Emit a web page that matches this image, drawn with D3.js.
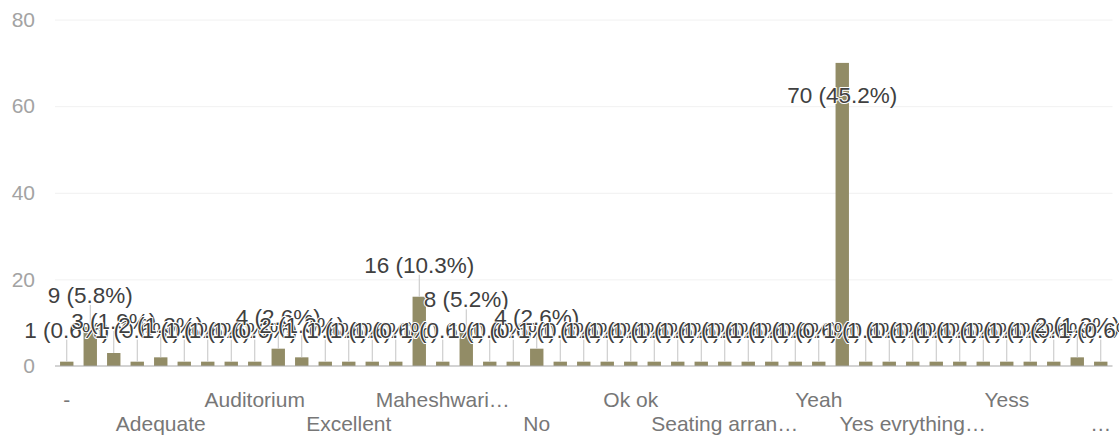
<!DOCTYPE html>
<html>
<head>
<meta charset="utf-8">
<script src="https://cdn.jsdelivr.net/npm/d3@7"></script>
<style>
  html, body { margin: 0; padding: 0; background: #fff; }
  svg { display: block; font-family: "Liberation Sans", Arial, sans-serif; }
</style>
</head>
<body>
<svg id="chart" width="1119" height="444"></svg>
<script>
// ---- data ----
const categories = [
  "-", "Absolutely", "Acceptable", "Active", "Adequate", "Affordable", "All good", "Amazing",
  "Auditorium", "Average", "Better", "Clean", "Excellent", "Fine", "Food", "Good",
  "Maheshwari auditorium", "Maybe", "Most of them", "Need improvement", "No", "Nope", "Not bad", "Not really",
  "Ok ok", "Okay", "Partially", "Satisfied", "Seating arrangement", "Sometimes", "Sure", "Very good",
  "Yeah", "Yes", "Yes all", "Yes definitely", "Yes evrything is good", "Yes good", "Yes it is", "Yes of course",
  "Yess", "Yesss", "Yo", "Yup", "…"
];
const values = [
  1, 9, 3, 1, 2, 1, 1, 1,
  1, 4, 2, 1, 1, 1, 1, 16,
  1, 8, 1, 1, 4, 1, 1, 1,
  1, 1, 1, 1, 1, 1, 1, 1,
  1, 70, 1, 1, 1, 1, 1, 1,
  1, 1, 1, 2, 1
];
const yTicks = [0, 20, 40, 60, 80];
const tickLabels = ["-", "Adequate", "Auditorium", "Excellent", "Maheshwari…", "No",
                    "Ok ok", "Seating arran…", "Yeah", "Yes evrything…", "Yess", "…"];

// ---- layout ----
const svg = d3.select("#chart");
const plotLeft = 55, plotRight = 1112.5, plotTop = 19.6, plotBottom = 366;
const total = d3.sum(values);
const rows = categories.map((c, i) => ({ c, v: values[i], i }));

const x = d3.scaleBand().domain(categories).range([plotLeft, plotRight])
  .paddingInner(0.43).paddingOuter(0.215);
const y = d3.scaleLinear().domain([0, 80]).range([plotBottom, plotTop]);

// gridlines
svg.append("g")
  .attr("transform", `translate(${plotLeft},0)`)
  .call(d3.axisLeft(y).tickValues(yTicks.slice(1)).tickSize(-(plotRight - plotLeft)).tickFormat(""))
  .call(g => g.select(".domain").remove())
  .call(g => g.selectAll("line").attr("stroke", "#f1f1f1"));

// y axis labels
svg.append("g")
  .attr("transform", `translate(${plotLeft},0)`)
  .call(d3.axisLeft(y).tickValues(yTicks).tickSize(0).tickPadding(20))
  .call(g => g.select(".domain").remove())
  .call(g => g.selectAll("text")
    .attr("fill", "#a3a3a3").style("font-size", "21px")
    .style("font-family", "'Liberation Sans', Arial, sans-serif"));

// bars
svg.append("g").selectAll("rect").data(rows).join("rect")
  .attr("x", d => x(d.c))
  .attr("y", d => y(d.v))
  .attr("width", x.bandwidth())
  .attr("height", d => y(0) - y(d.v))
  .attr("fill", "#928c66");

// baseline
svg.append("line")
  .attr("x1", plotLeft).attr("x2", plotRight)
  .attr("y1", y(0)).attr("y2", y(0))
  .attr("stroke", "#a8a8a8").attr("stroke-width", 1.2);

// annotation layout
const inside = d => y(0) - y(d.v) > (plotBottom - plotTop) / 2;
const labelY = d => inside(d) ? y(d.v) + 40 : y(d.v) - 24;

// stems
svg.append("g").selectAll("line").data(rows.filter(d => !inside(d))).join("line")
  .attr("x1", d => x(d.c) + x.bandwidth() / 2)
  .attr("x2", d => x(d.c) + x.bandwidth() / 2)
  .attr("y1", d => y(d.v))
  .attr("y2", d => labelY(d) + 2)
  .attr("stroke", "#c4c4c4").attr("stroke-width", 1);

// annotations
const pct = d3.format(".1%");
svg.append("g").selectAll("text").data(rows).join("text")
  .attr("x", d => x(d.c) + x.bandwidth() / 2)
  .attr("y", d => labelY(d))
  .attr("text-anchor", "middle")
  .style("font-size", "22.5px")
  .attr("fill", "#404040")
  .attr("stroke", "#fff").attr("stroke-width", 2).attr("stroke-linejoin", "round")
  .style("paint-order", "stroke")
  .text(d => `${d.v} (${pct(d.v / total)})`);

// x axis labels (every 4th category, two staggered rows)
const shown = categories.filter((c, i) => i % 4 === 0);
svg.append("g")
  .attr("transform", `translate(0,${plotBottom})`)
  .call(d3.axisBottom(x).tickValues(shown).tickSize(0)
    .tickFormat((d, i) => tickLabels[i]))
  .call(g => g.select(".domain").remove())
  .call(g => g.selectAll("text")
    .attr("fill", "#777").style("font-size", "21px")
    .style("font-family", "'Liberation Sans', Arial, sans-serif")
    .attr("dy", null)
    .attr("y", (d, i) => i % 2 === 0 ? 41 : 65));
</script>
</body>
</html>
